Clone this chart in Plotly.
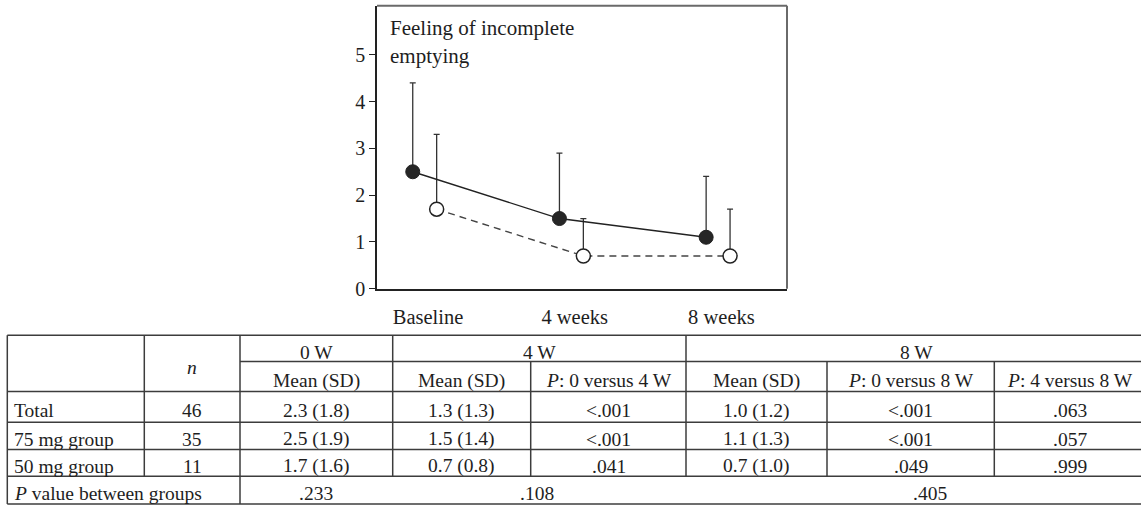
import plotly.graph_objects as go

# ---- chart data -------------------------------------------------------
timepoints = ["Baseline", "4 weeks", "8 weeks"]
mean_75mg = [2.5, 1.5, 1.1]
sd_75mg = [1.9, 1.4, 1.3]
mean_50mg = [1.7, 0.7, 0.7]
sd_50mg = [1.6, 0.8, 1.0]
y_ticks = [0, 1, 2, 3, 4, 5]

# ---- table data -------------------------------------------------------
row_labels = ["Total", "75 mg group", "50 mg group"]
n_values = [46, 35, 11]
mean_0w = [2.3, 2.5, 1.7]
sd_0w = [1.8, 1.9, 1.6]
mean_4w = [1.3, 1.5, 0.7]
sd_4w = [1.3, 1.4, 0.8]
p_0_vs_4 = ["<.001", "<.001", ".041"]
mean_8w = [1.0, 1.1, 0.7]
sd_8w = [1.2, 1.3, 1.0]
p_0_vs_8 = ["<.001", "<.001", ".049"]
p_4_vs_8 = [".063", ".057", ".999"]
p_between = [".233", ".108", ".405"]

W, H = 1141, 516
FONT = "Liberation Serif"
INK = "#1e1e1e"
RULE = "#3c3c3c"


def fx(px):
    return px / W


def fy(py):
    return 1 - py / H


# plot-area box in pixels
PL, PR, PT, PB = 377, 787, 6, 295

x_idx = list(range(len(timepoints)))
off_75, off_50 = -0.104, 0.059

fig = go.Figure()

fig.add_trace(go.Scatter(
    x=[i + off_50 for i in x_idx], y=mean_50mg,
    mode="lines+markers",
    line=dict(color="#444444", width=1.4, dash="7px,5px"),
    marker=dict(size=14, color="white", line=dict(color="#222222", width=1.5)),
    error_y=dict(type="data", symmetric=False, array=sd_50mg,
                 arrayminus=[0] * len(sd_50mg), thickness=1.3, width=3,
                 color="#333333"),
    showlegend=False,
))
fig.add_trace(go.Scatter(
    x=[i + off_75 for i in x_idx], y=mean_75mg,
    mode="lines+markers",
    line=dict(color="#222222", width=1.4),
    marker=dict(size=14, color="#262626", line=dict(color="#222222", width=1)),
    error_y=dict(type="data", symmetric=False, array=sd_75mg,
                 arrayminus=[0] * len(sd_75mg), thickness=1.3, width=3,
                 color="#333333"),
    showlegend=False,
))

unit = 146.7
fig.update_xaxes(
    domain=[fx(PL), fx(PR)],
    range=[-(428 - PL) / unit, (PR - 428) / unit],
    tickmode="array", tickvals=x_idx, ticktext=timepoints,
    ticks="", showgrid=False, zeroline=False,
    showline=True, linecolor="#222222", linewidth=1.5,
    ticklabelstandoff=9,
    tickfont=dict(family=FONT, size=20.5, color=INK),
)
fig.update_yaxes(
    domain=[fy(PB), fy(PT)],
    range=[0, (PB - PT) / 47.8],
    tickmode="array", tickvals=y_ticks,
    ticks="outside", ticklen=6, tickwidth=1.3, tickcolor="#222222",
    showgrid=False, zeroline=False,
    showline=True, linecolor="#222222", linewidth=1.5,
    tickfont=dict(family=FONT, size=20, color=INK),
)

shapes = []
# top and right frame of the plot box
shapes.append(dict(type="line", xref="paper", yref="paper",
                   x0=fx(PL), x1=fx(PR), y0=fy(PT), y1=fy(PT),
                   line=dict(color="#6a6a6a", width=2)))
shapes.append(dict(type="line", xref="paper", yref="paper",
                   x0=fx(PR), x1=fx(PR), y0=fy(PT), y1=fy(PB),
                   line=dict(color="#6a6a6a", width=2)))

annotations = []


def text(x, y, s, anchor="center", size=19.5):
    annotations.append(dict(
        x=fx(x), y=fy(y), xref="paper", yref="paper", text=s,
        showarrow=False, xanchor=anchor, yanchor="middle",
        font=dict(family=FONT, size=size, color=INK),
    ))


# panel title
text(388, 29, "Feeling of incomplete", anchor="left", size=21)
text(388, 57, "emptying", anchor="left", size=21)

# ---- table rules --------------------------------------------------------
T_TOP, T_SUB, T_HEAD = 342.5, 369.5, 400
ROW_LINES = [431.5, 459.3, 486.7, 515]
X_LEFT, X_RIGHT = 7.3, 1141


def hline(y, x0, x1):
    shapes.append(dict(type="line", xref="paper", yref="paper",
                       x0=fx(x0), x1=fx(x1), y0=fy(y), y1=fy(y),
                       line=dict(color=RULE, width=1.5)))


def vline(x, y0, y1):
    shapes.append(dict(type="line", xref="paper", yref="paper",
                       x0=fx(x), x1=fx(x), y0=fy(y0), y1=fy(y1),
                       line=dict(color=RULE, width=1.5)))


hline(T_TOP, X_LEFT, X_RIGHT)
hline(T_SUB, 240, X_RIGHT)
hline(T_HEAD, X_LEFT, X_RIGHT)
for yl in ROW_LINES:
    hline(yl, X_LEFT, X_RIGHT)

vline(X_LEFT, T_TOP, 515)
vline(144.3, T_TOP, 486.7)
vline(240, T_TOP, 515)
vline(392.7, T_TOP, 486.7)
vline(530.7, T_SUB, 486.7)
vline(686, T_TOP, 486.7)
vline(827, T_SUB, 486.7)
vline(994.3, T_SUB, 486.7)

# ---- table text ---------------------------------------------------------
TS = 19.5
DY = 4  # optical centring of text inside a row
text(192, 371.5 + DY, "<i>n</i>", size=TS)
text(316, 356 + DY, "0 W", size=TS)
text(539, 356 + DY, "4 W", size=TS)
text(916, 356 + DY, "8 W", size=TS)
text(316, 385 + DY, "Mean (SD)", size=TS)
text(461.7, 385 + DY, "Mean (SD)", size=TS)
text(608.5, 385 + DY, "<i>P</i>: 0 versus 4 W", size=TS)
text(756.5, 385 + DY, "Mean (SD)", size=TS)
text(910.5, 385 + DY, "<i>P</i>: 0 versus 8 W", size=TS)
text(1070, 385 + DY, "<i>P</i>: 4 versus 8 W", size=TS)

row_y = [415.5, 445, 472.5]
for i, ry in enumerate(row_y):
    ry = ry + DY
    text(12, ry, row_labels[i], anchor="left", size=TS)
    text(192, ry, str(n_values[i]), size=TS)
    text(316, ry, f"{mean_0w[i]:.1f} ({sd_0w[i]:.1f})", size=TS)
    text(461.7, ry, f"{mean_4w[i]:.1f} ({sd_4w[i]:.1f})", size=TS)
    text(608.5, ry, p_0_vs_4[i].replace("<", "&lt;"), size=TS)
    text(756.5, ry, f"{mean_8w[i]:.1f} ({sd_8w[i]:.1f})", size=TS)
    text(910.5, ry, p_0_vs_8[i].replace("<", "&lt;"), size=TS)
    text(1070, ry, p_4_vs_8[i], size=TS)

text(12, 500.5 + DY, "<i>P</i> value between groups", anchor="left", size=TS)
for xp, val in zip([316, 537, 930], p_between):
    text(xp, 500.5 + DY, val, size=TS)

fig.update_layout(
    width=W, height=H,
    margin=dict(l=0, r=0, t=0, b=0),
    paper_bgcolor="white", plot_bgcolor="white",
    shapes=shapes, annotations=annotations,
    showlegend=False,
)

fig.write_html("out.html")
